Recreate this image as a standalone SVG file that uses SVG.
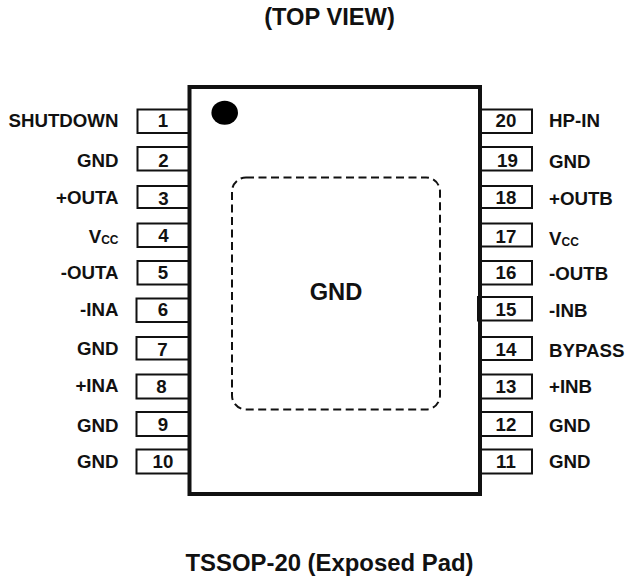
<svg xmlns="http://www.w3.org/2000/svg" width="627" height="578" viewBox="0 0 627 578">
<style>
text{font-family:"Liberation Sans",Arial,sans-serif;font-weight:700;font-size:18.7px;fill:#111}
.r{text-anchor:end}
.m{text-anchor:middle}
.pin{fill:#fff;stroke:#111;stroke-width:2}
.sub{font-size:12px}
.big{font-size:23.7px}
</style>
<rect width="627" height="578" fill="#fff"/>
<text class="m big" x="329.5" y="24.5">(TOP VIEW)</text>
<text class="m big" x="329.5" y="570.5" style="font-size:23.9px">TSSOP-20 (Exposed Pad)</text>
<g id="pins-left">
<g id="pin1"><rect class="pin" x="137.5" y="109.5" width="52" height="23.5"/><text class="m" x="163" y="127">1</text><text class="r" x="118.5" y="127.3">SHUTDOWN</text></g>
<g id="pin2"><rect class="pin" x="137.5" y="147" width="52" height="23.5"/><text class="m" x="163.5" y="166.7">2</text><text class="r" x="118.5" y="166.7">GND</text></g>
<g id="pin3"><rect class="pin" x="137.5" y="186" width="52" height="22"/><text class="m" x="163.5" y="205">3</text><text class="r" x="118.5" y="204.3">+OUTA</text></g>
<g id="pin4"><rect class="pin" x="137.5" y="223.5" width="52" height="23.5"/><text class="m" x="163.5" y="242.3">4</text><text class="r" x="118.5" y="242.7">V<tspan class="sub" dy="1">CC</tspan></text></g>
<g id="pin5"><rect class="pin" x="137.5" y="261" width="52" height="23.5"/><text class="m" x="163" y="279">5</text><text class="r" x="118.5" y="279">-OUTA</text></g>
<g id="pin6"><rect class="pin" x="136.5" y="298.5" width="53" height="23.5"/><text class="m" x="163" y="316">6</text><text class="r" x="118.5" y="315.7">-INA</text></g>
<g id="pin7"><rect class="pin" x="136.5" y="337" width="53" height="22.5"/><text class="m" x="162.5" y="356">7</text><text class="r" x="118.5" y="355">GND</text></g>
<g id="pin8"><rect class="pin" x="136.5" y="374.5" width="53" height="24"/><text class="m" x="161.5" y="393.3">8</text><text class="r" x="118.5" y="391.7">+INA</text></g>
<g id="pin9"><rect class="pin" x="136.5" y="412" width="53" height="24"/><text class="m" x="163" y="430.7">9</text><text class="r" x="118.5" y="431.7">GND</text></g>
<g id="pin10"><rect class="pin" x="136.5" y="449.5" width="53" height="24"/><text class="m" x="163" y="467.7">10</text><text class="r" x="118.5" y="468.3">GND</text></g>
</g>
<g id="pins-right">
<g id="pin20"><rect class="pin" x="480" y="109.5" width="52" height="23.5"/><text class="m" x="506" y="126.7">20</text><text x="549" y="126.7">HP-IN</text></g>
<g id="pin19"><rect class="pin" x="480" y="147" width="52" height="23.5"/><text class="m" x="507.5" y="167.3">19</text><text x="549" y="167.7">GND</text></g>
<g id="pin18"><rect class="pin" x="480" y="186" width="52" height="22"/><text class="m" x="506" y="204">18</text><text x="549" y="205">+OUTB</text></g>
<g id="pin17"><rect class="pin" x="480" y="223.5" width="52" height="23"/><text class="m" x="506" y="243.3">17</text><text x="549" y="245">V<tspan class="sub" dy="1">CC</tspan></text></g>
<g id="pin16"><rect class="pin" x="480" y="261" width="52" height="23.5"/><text class="m" x="506" y="279.3">16</text><text x="549" y="280">-OUTB</text></g>
<g id="pin15"><rect class="pin" x="478" y="297" width="54" height="23.5"/><text class="m" x="506" y="316">15</text><text x="549" y="316.7">-INB</text></g>
<g id="pin14"><rect class="pin" x="480" y="337" width="52" height="23"/><text class="m" x="506" y="356">14</text><text x="549" y="356.7">BYPASS</text></g>
<g id="pin13"><rect class="pin" x="480" y="374.5" width="52" height="24"/><text class="m" x="506" y="392.7">13</text><text x="549" y="393.3">+INB</text></g>
<g id="pin12"><rect class="pin" x="480" y="412" width="52" height="24"/><text class="m" x="506" y="431">12</text><text x="549" y="431.7">GND</text></g>
<g id="pin11"><rect class="pin" x="480" y="449.5" width="52" height="24"/><text class="m" x="506" y="468.3">11</text><text x="549" y="468.3">GND</text></g>
</g>
<g id="body">
<rect x="189.5" y="87" width="290.5" height="407" fill="none" stroke="#111" stroke-width="4"/>
<ellipse cx="224.7" cy="112.7" rx="13.3" ry="12" fill="#000"/>
</g>
<g id="pad">
<rect x="232" y="177.5" width="208" height="232" rx="14" fill="none" stroke="#111" stroke-width="2" stroke-dasharray="8 4.5"/>
<text class="m big" x="336" y="299.5">GND</text>
</g>
</svg>
